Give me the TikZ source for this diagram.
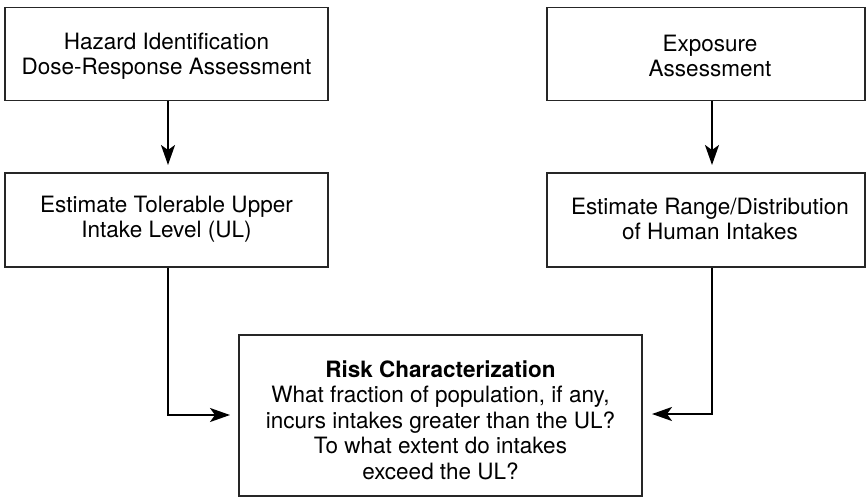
\documentclass[tikz,border=0pt]{standalone}
\usepackage{fontspec}
\setmainfont{TeX Gyre Heros}
\usetikzlibrary{arrows.meta}
\begin{document}
\begin{tikzpicture}[x=1pt,y=-1pt,
  box/.style={draw=black!85,line width=1.3pt,rectangle,inner sep=0pt},
  txt/.style={align=center,font=\fontsize{22.5}{25.5}\selectfont},
  conn/.style={line width=2pt,-{Stealth[length=20pt,width=14pt,inset=5pt]}}]
\useasboundingbox (0,0) rectangle (867,498);
\node[box,minimum width=323pt,minimum height=93pt] (haz) at (166.5,54) {};
\node[txt] (hazt) at (166.5,56) {Hazard Identification\\Dose-Response Assessment};
\node[box,minimum width=318pt,minimum height=93pt] (exp) at (706,54) {};
\node[txt] (expt) at (710,56) {Exposure\\Assessment};
\node[box,minimum width=323pt,minimum height=94pt] (ul) at (166.5,220) {};
\node[txt] (ult) at (166.5,219) {Estimate Tolerable Upper\\Intake Level (UL)};
\node[box,minimum width=318pt,minimum height=94pt] (rng) at (706,220) {};
\node[txt] (rngt) at (710,219) {Estimate Range/Distribution\\of Human Intakes};
\node[box,minimum width=403pt,minimum height=161pt] (risk) at (440.5,415.5) {};
\node[txt] (riskt) at (440.5,420) {\textbf{Risk Characterization}\\What fraction of population, if any,\\incurs intakes greater than the UL?\\To what extent do intakes\\exceed the UL?};
\coordinate (t1) at (168,165);
\coordinate (t2) at (712,165);
\coordinate (e1) at (230,415);
\coordinate (e2) at (652,414);
\draw[conn] (haz.south -| t1) -- (t1);
\draw[conn] (exp.south -| t2) -- (t2);
\draw[conn] (ul.south -| t1) |- (e1);
\draw[conn] (rng.south -| t2) |- (e2);
\end{tikzpicture}
\end{document}
